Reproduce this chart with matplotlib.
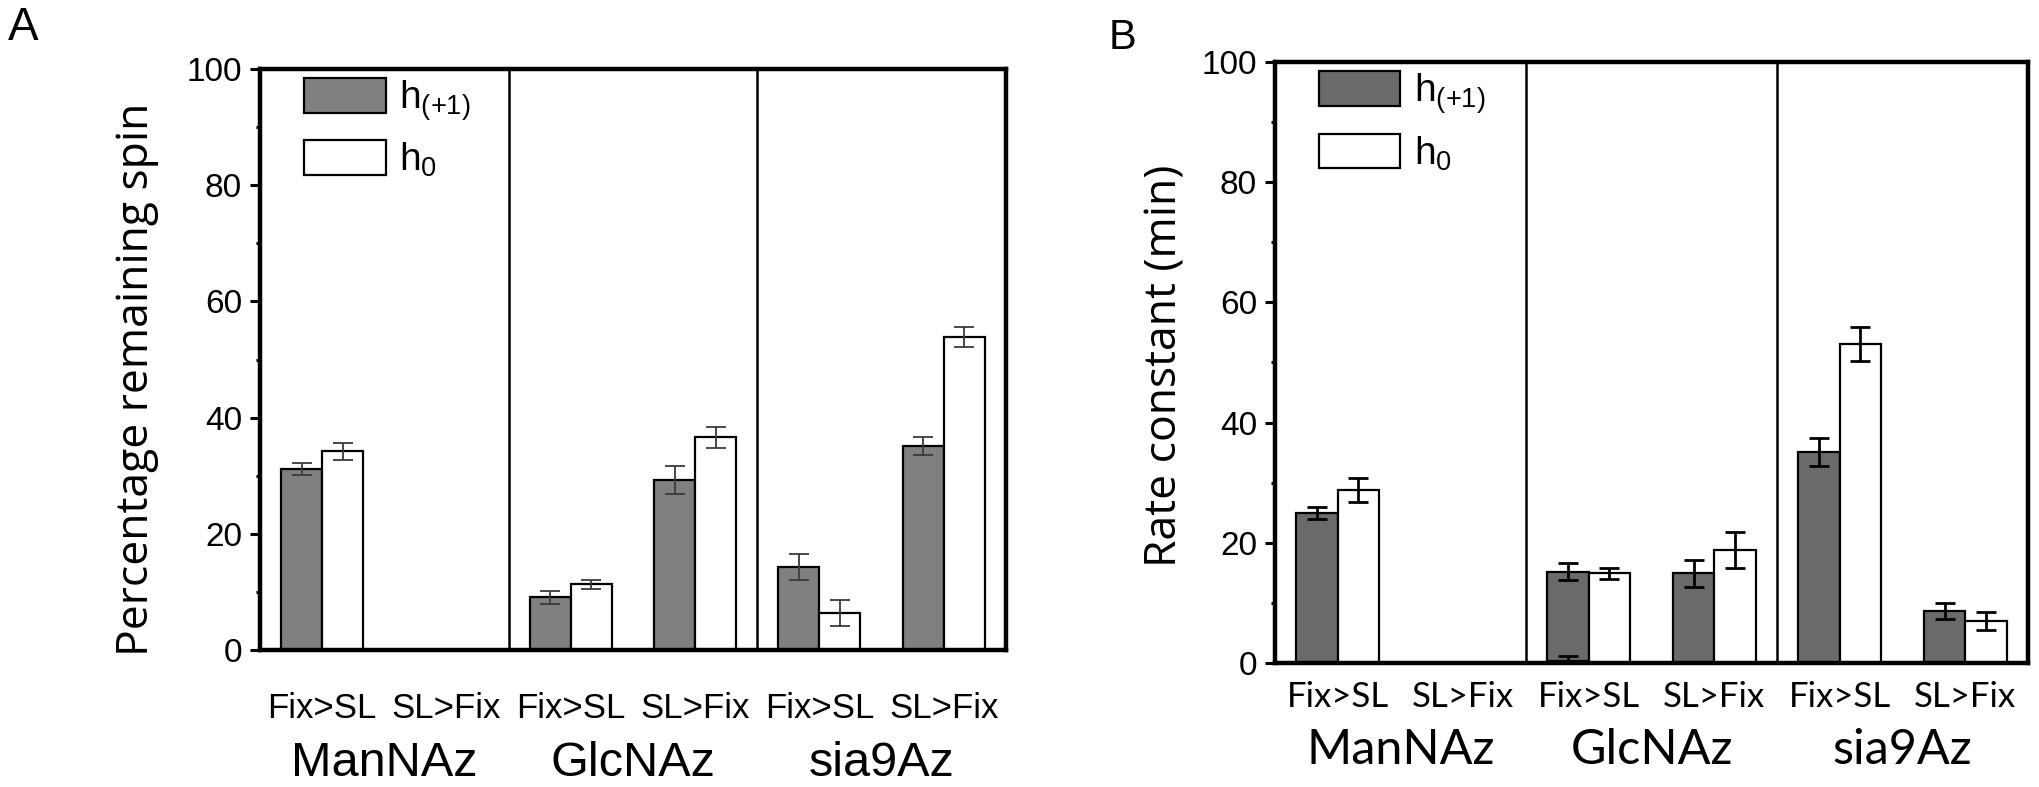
import numpy as np
import matplotlib.pyplot as plt
from matplotlib.patches import Patch
from matplotlib.ticker import MultipleLocator

plt.rcParams["mathtext.fontset"] = "custom"
plt.rcParams["mathtext.rm"] = "Liberation Sans"
plt.rcParams["mathtext.default"] = "regular"

groups = ["ManNAz", "GlcNAz", "sia9Az"]
conditions = ["Fix>SL", "SL>Fix", "Fix>SL", "SL>Fix", "Fix>SL", "SL>Fix"]
series_labels = [r"h$_{(+1)}$", r"h$_{0}$"]

# panel A: percentage remaining spin
spin_h1 = [31.2, np.nan, 9.1, 29.3, 14.3, 35.1]
spin_h1_err = [1.0, np.nan, 1.1, 2.4, 2.2, 1.6]
spin_h0 = [34.2, np.nan, 11.3, 36.6, 6.4, 53.9]
spin_h0_err = [1.5, np.nan, 0.8, 1.8, 2.2, 1.7]

# panel B: rate constant (min)
rate_h1 = [24.9, np.nan, 15.2, 14.9, 35.1, 8.6]
rate_h1_err = [1.0, np.nan, 1.4, 2.3, 2.4, 1.3]
rate_h0 = [28.8, np.nan, 14.9, 18.8, 53.1, 7.0]
rate_h0_err = [2.0, np.nan, 0.9, 3.0, 2.8, 1.5]
# small stray bar sitting at the bottom of GlcNAz Fix>SL in panel B
rate_stray = [np.nan, np.nan, 0.4, np.nan, np.nan, np.nan]
rate_stray_err = [np.nan, np.nan, 0.8, np.nan, np.nan, np.nan]

ARIAL = "Liberation Sans"
CALIBRI = "Lato"
YLAB_FONT = "Open Sans"


def draw_panel(ax, h1, h1_err, h0, h0_err, dark, ecolor, elw, ylabel,
               label_font, cond_y, group_y, ylab_x, ylab_y, leg_anchor):
    x = np.arange(1, len(conditions) + 1)
    w = 0.33
    ax.bar(x - w / 2, h1, w, color=dark, edgecolor="black", linewidth=1.6, zorder=2)
    ax.bar(x + w / 2, h0, w, color="white", edgecolor="black", linewidth=1.6, zorder=2)
    ax.errorbar(x - w / 2, h1, yerr=h1_err, fmt="none", ecolor=ecolor,
                elinewidth=elw, capsize=7, capthick=elw, zorder=3)
    ax.errorbar(x + w / 2, h0, yerr=h0_err, fmt="none", ecolor=ecolor,
                elinewidth=elw, capsize=7, capthick=elw, zorder=3)

    for xd in [2.5, 4.5]:
        ax.axvline(xd, color="black", lw=1.8, zorder=1)

    ax.set_xlim(0.5, 6.5)
    ax.set_ylim(0, 100)
    ax.yaxis.set_major_locator(MultipleLocator(20))
    ax.yaxis.set_minor_locator(MultipleLocator(10))
    ax.tick_params(axis="y", which="major", direction="out", length=7, width=2.2,
                   labelsize=24, pad=6)
    ax.tick_params(axis="y", which="minor", direction="out", length=3, width=2.2)
    for lab in ax.get_yticklabels():
        lab.set_fontfamily(ARIAL)
    ax.set_xticks([])
    for s in ax.spines.values():
        s.set_linewidth(3.2)

    trans = ax.get_xaxis_transform()
    for xi, cond in zip(x, conditions):
        ax.text(xi, cond_y, cond, transform=trans, ha="center", va="center",
                fontsize=25, family=label_font)
    for i, g in enumerate(groups):
        ax.text(2 * i + 1.5, group_y, g, transform=trans, ha="center", va="center",
                fontsize=35, family=label_font)

    ax.text(ylab_x, ylab_y, ylabel, transform=ax.transAxes, rotation=90,
            ha="center", va="center", fontsize=32, family=YLAB_FONT)

    handles = [Patch(facecolor=dark, edgecolor="black", linewidth=1.6),
               Patch(facecolor="white", edgecolor="black", linewidth=1.6)]
    ax.legend(handles, series_labels, loc="upper left", bbox_to_anchor=leg_anchor,
              frameon=False, prop={"family": ARIAL, "size": 28},
              handlelength=2.1, handleheight=1.0, handletextpad=0.35,
              labelspacing=0.45, borderpad=0, borderaxespad=0)


fig = plt.figure(figsize=(20.4, 7.87), dpi=100)
axA = fig.add_axes([0.1275, 0.1741, 0.4931 - 0.1275, 0.9123 - 0.1741])
axB = fig.add_axes([0.625, 0.1576, 0.9941 - 0.625, 0.9212 - 0.1576])

draw_panel(axA, spin_h1, spin_h1_err, spin_h0, spin_h0_err,
           dark="#808080", ecolor="#3a3a3a", elw=1.3,
           ylabel="Percentage remaining spin", label_font=ARIAL,
           cond_y=-0.100, group_y=-0.195, ylab_x=-0.165, ylab_y=0.466,
           leg_anchor=(0.059, 0.985))

draw_panel(axB, rate_h1, rate_h1_err, rate_h0, rate_h0_err,
           dark="#6a6a6a", ecolor="black", elw=2.0,
           ylabel="Rate constant (min)", label_font=CALIBRI,
           cond_y=-0.057, group_y=-0.145, ylab_x=-0.146, ylab_y=0.495,
           leg_anchor=(0.058, 0.985))

xs = np.arange(1, len(conditions) + 1) - 0.33 / 2
axB.bar(xs, rate_stray, 0.33, color="#3a3a3a", edgecolor="black", linewidth=1.6, zorder=2)
axB.errorbar(xs, rate_stray, yerr=rate_stray_err, fmt="none", ecolor="black",
             elinewidth=2.0, capsize=7, capthick=2.0, zorder=3)

fig.text(0.0113, 0.964, "A", fontsize=33, family=ARIAL, ha="center", va="center")
fig.text(0.550, 0.952, "B", fontsize=30, family=ARIAL, ha="center", va="center")

fig.savefig("out.png", dpi=100)
